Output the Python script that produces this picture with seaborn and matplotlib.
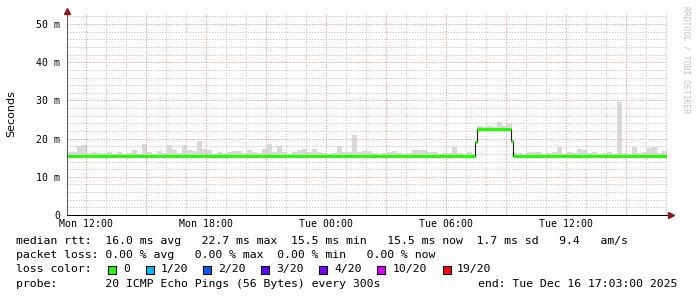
import matplotlib
matplotlib.use("Agg")
import matplotlib.pyplot as plt
import numpy as np
import pandas as pd
import seaborn as sns
from matplotlib.patches import Rectangle

# ---------------- data ----------------
# time axis in hours since Mon 00:00
window_start_h = 11.05   # Mon 11:03
window_end_h = 41.05     # Tue 17:03
x_tick_hours = [12, 18, 24, 30, 36]
x_tick_labels = ["Mon 12:00", "Mon 18:00", "Tue 00:00", "Tue 06:00", "Tue 12:00"]
y_tick_values = [0, 10, 20, 30, 40, 50]
y_tick_labels = ["0", "10 m", "20 m", "30 m", "40 m", "50 m"]

# smoke (max rtt, ms) in 15-minute bins starting at window start
smoke_bin_h = 0.25
smoke_top = [
    16.6, 16.6, 18.0, 18.4, 16.3, 16.6, 16.3, 16.2, 16.5, 16.1,
    16.4, 16.0, 16.2, 17.0, 16.1, 18.6, 16.4, 16.0, 16.8, 16.2,
    18.3, 16.9, 16.2, 18.3, 17.0, 16.8, 19.5, 17.4, 17.0, 16.1,
    16.4, 16.3, 16.6, 16.7, 16.7, 16.2, 17.1, 16.4, 16.2, 17.2,
    18.7, 16.5, 18.2, 16.4, 16.1, 16.6, 17.0, 17.2, 16.4, 17.2,
    16.5, 16.3, 16.0, 16.2, 18.0, 16.6, 16.5, 21.0, 16.4, 16.8,
    16.7, 16.3, 16.1, 16.2, 16.4, 16.8, 16.3, 16.1, 16.2, 16.9,
    17.0, 17.0, 16.6, 16.4, 16.1, 16.3, 16.2, 17.7, 16.2, 16.0,
    16.5, 16.0, 23.2, 23.0, 23.3, 23.0, 24.3, 23.4, 24.0, 16.6,
    16.2, 16.0, 16.6, 16.6, 16.5, 16.0, 16.2, 16.4, 17.9, 16.1,
    16.6, 16.2, 17.3, 17.0, 16.3, 16.5, 16.0, 16.2, 16.6, 16.0,
    29.6, 16.2, 16.0, 17.9, 16.2, 16.4, 17.6, 17.7, 16.3, 16.8,
]

# median rtt (ms): change points
median_change_h = [11.05, 31.435, 31.535, 33.265, 33.365]
median_change_v = [15.5, 19.2, 22.6, 19.3, 15.5]
# short dips of the median line
dip_start_h = [11.25, 11.65, 12.05, 12.75, 13.35, 13.80, 14.70, 15.25, 15.75, 16.55,
               17.20, 18.00, 19.85, 20.50, 20.90, 21.50, 22.20, 23.15, 23.80, 24.50,
               25.00, 25.75, 26.50, 27.20, 27.50, 28.40, 29.15, 29.90, 30.30, 33.55,
               34.90, 35.80, 37.40, 37.90, 38.80, 39.75, 40.25]
dip_len_h = [0.15, 0.15, 0.10, 0.15, 0.15, 0.15, 0.15, 0.15, 0.15, 0.15,
             0.15, 0.15, 0.20, 0.20, 0.15, 0.15, 0.20, 0.15, 0.25, 0.15,
             0.25, 0.15, 0.15, 0.15, 0.55, 0.15, 0.15, 0.15, 0.20, 0.35,
             0.15, 0.25, 0.25, 0.25, 0.20, 0.25, 0.15]
dip_value = 15.36

loss_labels = ["0", "1/20", "2/20", "3/20", "4/20", "10/20", "19/20"]
loss_colors = ["#26ff00", "#00b8ff", "#0059ff", "#5e00ff", "#7e00ff", "#dd00ff", "#ff0000"]

stats_line = "median rtt:  16.0 ms avg   22.7 ms max  15.5 ms min   15.5 ms now  1.7 ms sd   9.4   am/s"
loss_line = "packet loss: 0.00 % avg   0.00 % max  0.00 % min   0.00 % now"
probe_line = "probe:       20 ICMP Echo Pings (56 Bytes) every 300s"
end_line = "end: Tue Dec 16 17:03:00 2025"

# ---------------- style ----------------
sns.set_theme(style="white")
plt.rcParams["font.family"] = ["DejaVu Sans Mono", "DejaVu Sans"]
plt.rcParams["lines.scale_dashes"] = False

W, H = 697, 297
fig = plt.figure(figsize=(W / 100, H / 100), dpi=100)
fig.patch.set_facecolor("white")
ax = fig.add_axes([67 / W, 1 - 215 / H, 600 / W, 202 / H])
ax.set_facecolor("white")
ax.set_xlim(window_start_h, window_end_h)
ax.set_ylim(0, 52.9)

# grid
px = 0.72
minor_x = [h for h in range(12, 42) if h % 3 != 0]
major_x = [h for h in range(12, 42) if h % 3 == 0]
minor_y = [v for v in range(2, 53, 2) if v % 10 != 0]
major_y = [10, 20, 30, 40, 50]
dot = (0, (1, 1))
ax.vlines(minor_x, 0, 52.9, colors="#cccccc", lw=px, linestyles=dot, zorder=2)
ax.hlines(minor_y, window_start_h, window_end_h, colors="#cccccc", lw=px, linestyles=dot, zorder=2)
ax.vlines(major_x, 0, 52.9, colors="#e6a8a8", lw=px, linestyles=dot, zorder=2.1)
ax.hlines(major_y, window_start_h, window_end_h, colors="#e6a8a8", lw=px, linestyles=dot, zorder=2.1)

# median step function
def base_median(h):
    v = median_change_v[0]
    for t, val in zip(median_change_h, median_change_v):
        if h >= t:
            v = val
    return v

def median_at(h):
    for s, l in zip(dip_start_h, dip_len_h):
        if s <= h < s + l:
            return dip_value
    return base_median(h)

# smoke
n = len(smoke_top)
bin_edges = window_start_h + smoke_bin_h * np.arange(n + 1)
bin_mid = bin_edges[:-1] + smoke_bin_h / 2
smoke_low = np.array([base_median(m) - 0.25 for m in bin_mid])
top = np.array(smoke_top)
ax.fill_between(bin_edges, np.append(smoke_low, smoke_low[-1]), np.append(top, top[-1]),
                step="post", color="#d9d9d9", lw=0, zorder=1)

# median line segments
edges = set(median_change_h) | set(dip_start_h) | {s + l for s, l in zip(dip_start_h, dip_len_h)}
edges = sorted(e for e in edges if window_start_h <= e <= window_end_h) + [window_end_h]
edges = sorted(set(edges))
seg_start = edges[:-1]
seg_end = edges[1:]
seg_val = [median_at((a + b) / 2) for a, b in zip(seg_start, seg_end)]
med_df = pd.DataFrame({"h": seg_start + [window_end_h], "ms": seg_val + [seg_val[-1]]})
sns.lineplot(data=med_df, x="h", y="ms", drawstyle="steps-post", color="#202020",
             lw=0.8, ax=ax, zorder=3)
ax.hlines(seg_val, seg_start, seg_end, colors=loss_colors[0], lw=2.2, zorder=4,
          capstyle="butt")

# axes
ax.set_xlabel("")
ax.set_ylabel("")
for s in ["top", "right"]:
    ax.spines[s].set_visible(False)
ax.spines["left"].set_color("#555555")
ax.spines["left"].set_linewidth(px)
ax.spines["bottom"].set_color("#000000")
ax.spines["bottom"].set_linewidth(px)
ax.spines["left"].set_zorder(5)
ax.spines["bottom"].set_zorder(5)

ax.set_xticks(x_tick_hours)
ax.set_xticklabels(x_tick_labels, fontsize=7.1, family="DejaVu Sans Mono", color="#000000")
ax.set_yticks(y_tick_values)
ax.set_yticklabels(y_tick_labels, fontsize=7.1, family="DejaVu Sans Mono", color="#000000")
ax.tick_params(axis="x", length=0, pad=2.6)
ax.tick_params(axis="y", length=0, pad=5.0)

# axis arrows
fig.lines.append(plt.Line2D([67 / W], [1 - 10.5 / H], marker="^", ms=4.2, color="#8b1a1a",
                            transform=fig.transFigure, lw=0))
fig.lines.append(plt.Line2D([671 / W], [1 - 215 / H], marker=">", ms=4.2, color="#8b1a1a",
                            transform=fig.transFigure, lw=0))

# y label
fig.text(11 / W, 1 - 114 / H, "Seconds", rotation=90, ha="center", va="center",
         fontsize=8, family="DejaVu Sans", color="#000000")

# watermark
fig.text(686 / W, 1 - 60 / H, "RRDTOOL / TOBI OETIKER", rotation=270, ha="center",
         va="center", fontsize=5.8, family="DejaVu Sans Mono", color="#c4c4c4")

# legend rows
lf = dict(fontsize=8.25, family="DejaVu Sans Mono", color="#000000", va="center", ha="left")
fig.text(16 / W, 1 - 241.3 / H, stats_line, **lf)
fig.text(16 / W, 1 - 255.3 / H, loss_line, **lf)
fig.text(16 / W, 1 - 269.3 / H, "loss color:", **lf)
fig.text(16 / W, 1 - 283.7 / H, probe_line, **lf)
fig.text(478 / W, 1 - 283.7 / H, end_line, **lf)

sq_x = [108, 146, 203, 261, 319, 377, 443]
lab_x = [123, 160.7, 218, 276, 334, 392.7, 457]
for sx, lx, lab, col in zip(sq_x, lab_x, loss_labels, loss_colors):
    fig.patches.append(Rectangle((sx / W, 1 - 273.5 / H), 8 / W, 8 / H, facecolor=col,
                                 edgecolor="#000000", lw=0.8, transform=fig.transFigure))
    fig.text(lx / W, 1 - 269.3 / H, lab, **lf)

fig.savefig("out.png", dpi=100, facecolor="white")
